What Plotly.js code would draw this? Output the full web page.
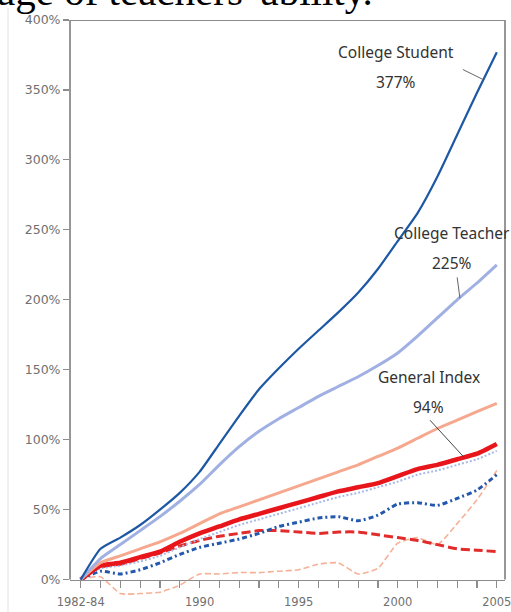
<!DOCTYPE html>
<html>
<head>
<meta charset="utf-8">
<script src="https://cdn.plot.ly/plotly-3.0.1.min.js"></script>
<style>html,body{margin:0;padding:0;background:#fff;}#chart{width:511px;height:612px;}</style>
</head>
<body>
<div id="chart"></div>
<script>
// ---- data (percent change since 1982-84) ----
const years = [1984,1985,1986,1987,1988,1989,1990,1991,1992,1993,1994,1995,1996,1997,1998,1999,2000,2001,2002,2003,2004,2005];
const collegeStudent = [0,22,30,39,50,62,77,97,117,136,151,165,178,191,205,222,242,262,288,318,348,377];
const collegeTeacher = [0,15,25,35,45,56,68,82,95,106,115,123,131,138,145,153,162,174,187,200,212,225];
const salmonSolid    = [0,12,17,22,27,33,40,47,52,57,62,67,72,77,82,88,94,101,108,114,120,126];
const generalIndex   = [0,10,12,16,20,27,33,38,43,47,51,55,59,63,66,69,74,79,82,86,90,97];
const lightBlueDot   = [0,8,10,13,17,23,29,34,39,43,47,51,55,59,62,66,70,75,78,82,86,92];
const darkBlueDot    = [0,6,4,7,12,18,23,26,29,33,38,41,44,45,42,46,54,55,53,58,64,75];
const redDashed      = [0,9,11,15,19,24,28,31,33,35,35,34,33,34,34,32,30,28,25,22,21,20];
const salmonDashed   = [0,2,-10,-10,-9,-4,4,4,5,5,6,7,11,12,4,8,26,30,25,40,57,78];
const xTickVals = [1984,1990,1995,2000,2005];
const xTickText = ['1982-84','1990','1995','2000','2005'];
const yTickVals = [0,50,100,150,200,250,300,350,400];
const yTickText = yTickVals.map(v => v + '%');

function tr(y, color, width, dash){
  return {x: years, y: y, type:'scatter', mode:'lines',
    line:{color:color, width:width, dash:dash||'solid', shape:'spline', smoothing:0.5},
    hoverinfo:'skip', showlegend:false};
}
const traces = [
  tr(salmonDashed, '#f6b197', 1.6, '6px,3px'),
  tr(redDashed, '#e22b2b', 3, '9px,4px'),
  tr(darkBlueDot, '#2358ad', 3, '5px,3px,2px,3px'),
  tr(lightBlueDot, '#a9b9e6', 2, '2px,2px'),
  tr(generalIndex, '#e8161b', 4.5),
  tr(salmonSolid, '#f6a88e', 3),
  tr(collegeTeacher, '#a0b0e2', 3),
  tr(collegeStudent, '#1d58a5', 2.2)
];

const frame = '#8c8c8c';
const annFont = {family:'Noto Sans, Open Sans, sans-serif', size:15.5, color:'#333'};
const layout = {
  width:511, height:612,
  margin:{l:70, r:6, t:20, b:12},
  paper_bgcolor:'#fff', plot_bgcolor:'#fff',
  showlegend:false,
  xaxis:{range:[1983.46,2005.414], anchor:'free', position:0.0353,
    showline:true, linecolor:frame, linewidth:1.5,
    tickvals:xTickVals, ticktext:xTickText, tickangle:0, ticklabeloverflow:'allow',
    ticks:'outside', ticklen:7, tickwidth:1.2, tickcolor:frame,
    minor:{tickvals:years, ticks:'outside', ticklen:7, tickwidth:1.2, tickcolor:frame, showgrid:false},
    ticklabelstandoff:4,
    tickfont:{family:'DejaVu Sans', size:11.5, color:'#707070'},
    showgrid:false, zeroline:false, fixedrange:true},
  yaxis:{range:[-14.6,400], showline:false, showgrid:false, zeroline:false,
    tickvals:yTickVals, ticktext:yTickText, ticks:'outside', ticklen:6, tickwidth:1.2, tickcolor:frame,
    tickfont:{family:'DejaVu Sans', size:12.5, color:'#707070'}, fixedrange:true},
  shapes:[
    {type:'line', xref:'paper', yref:'y', x0:0, x1:0, y0:0, y1:400, line:{color:frame, width:1.8}},
    {type:'line', xref:'paper', yref:'y', x0:0, x1:1, y0:400, y1:400, line:{color:frame, width:1.8}},
    {type:'line', xref:'paper', yref:'y', x0:1, x1:1, y0:0, y1:400, line:{color:frame, width:1.8}},
    {type:'line', xref:'paper', yref:'paper', x0:-0.1425, x1:-0.1425, y0:-0.03, y1:1.02, line:{color:'#e2e2e2', width:1}},
    {type:'line', xref:'x', yref:'y', x0:2003.29, y0:364.6, x1:2004.30, y1:357.5, line:{color:'#666', width:1}},
    {type:'line', xref:'x', yref:'y', x0:2003.0, y0:216, x1:2003.14, y1:201, line:{color:'#666', width:1}},
    {type:'line', xref:'x', yref:'y', x0:2001.63, y0:113.9, x1:2003.34, y1:87.5, line:{color:'#444', width:1}}
  ],
  annotations:[
    {text:"age of teachers' ability.", xref:'paper', yref:'paper', x:-0.1724, y:1.0495, xanchor:'left', yanchor:'middle',
      showarrow:false, font:{family:'Liberation Serif, Times New Roman, serif', size:41, color:'#000'}},
    {text:'College Student', xref:'x', yref:'y', x:1999.92, y:376.8, showarrow:false, font:annFont},
    {text:'377%', xref:'x', yref:'y', x:1999.92, y:356, showarrow:false, font:annFont},
    {text:'College Teacher', xref:'x', yref:'y', x:1999.71, y:247.5, xanchor:'left', showarrow:false, font:annFont},
    {text:'225%', xref:'x', yref:'y', x:2002.75, y:226, showarrow:false, font:annFont},
    {text:'General Index', xref:'x', yref:'y', x:2001.58, y:144.6, showarrow:false, font:annFont},
    {text:'94%', xref:'x', yref:'y', x:2001.53, y:123.2, showarrow:false, font:annFont}
  ]
};
Plotly.newPlot('chart', traces, layout, {displayModeBar:false, staticPlot:true});
</script>
</body>
</html>
